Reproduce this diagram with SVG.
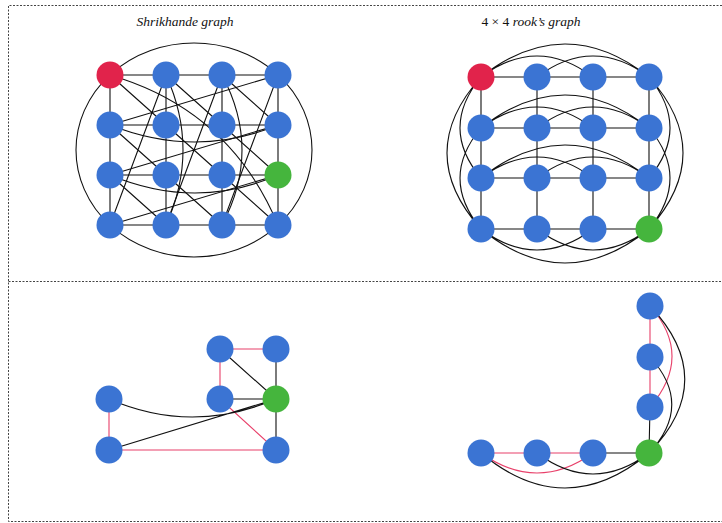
<svg xmlns="http://www.w3.org/2000/svg" width="722" height="523" viewBox="0 0 722 523">
<style>
.frame{stroke:#444;stroke-width:1;stroke-dasharray:2 1.5;fill:none}
.e{stroke:#111;stroke-width:1.1;fill:none}
.r{stroke:#e8406a;stroke-width:1.1;fill:none}
.b{fill:#3b74d3}
.red{fill:#e1234b}
.g{fill:#45b53d}
.t{font-family:"Liberation Serif",serif;font-size:13.5px;fill:#111}
</style>
<g id="frame">
<path class="frame" d="M722 5.5H8.5V521.5H722M8.5 281.5H722"/>
</g>
<text class="t" x="185" y="26" text-anchor="middle" font-style="italic">Shrikhande graph</text>
<text class="t" x="531" y="26" text-anchor="middle">4 × 4 <tspan font-style="italic">rook’s graph</tspan></text>
<g id="connectors">
<!-- Shrikhande -->
<ellipse class="e" cx="194" cy="150" rx="118" ry="107"/>
<path class="e" d="M110 75H278M110 125H278M110 175H278M110 225H278M110 75V225M166 75V225M222 75V225M278 75V225"/>
<path class="e" d="M110 75L166 125M166 75L222 125M222 75L278 125M278 75L110 125M110 125L166 175M166 125L222 175M222 125L278 175M278 125L110 175M110 175L166 225M166 175L222 225M222 175L278 225M278 175L110 225M110 225L166 75M166 225L222 75M222 225L278 75"/>
<path class="e" d="M110 75Q230 110 278 225"/>
<path class="e" d="M110 125Q196 159 278 125M110 175Q196 211 278 175M166 75Q200 150 166 225M222 75Q262 150 222 225"/>
<!-- Rook -->
<path class="e" d="M481 77H649M481 128H649M481 178H649M481 229H649M481 77V229M537 77V229M593 77V229M649 77V229"/>
<path class="e" d="M481 77Q537 35 593 77M537 77Q593 35 649 77M481 77Q565 11 649 77"/>
<path class="e" d="M481 128Q537 86 593 128M537 128Q593 86 649 128M481 128Q565 62 649 128"/>
<path class="e" d="M481 178Q537 136 593 178M537 178Q593 136 649 178M481 178Q565 112 649 178"/>
<path class="e" d="M481 229Q537 271 593 229M537 229Q593 271 649 229M481 229Q565 297 649 229"/>
<path class="e" d="M481 77Q439 128 481 178M481 128Q439 178 481 229M481 77Q413 153 481 229"/>
<path class="e" d="M649 77Q691 128 649 178M649 128Q691 178 649 229M649 77Q717 153 649 229"/>
<!-- bottom left -->
<path class="r" d="M220 349H276M220 349V399M220 399L276 450M109 399V450M109 450H276"/>
<path class="e" d="M276 349V450M220 349L276 399M220 399H276M109 450L276 399M109 399Q192 435 276 399"/>
<!-- bottom right -->
<path class="r" d="M650 306V407M650 306Q694 356 650 407M481 453H593M481 453Q537 493 593 453"/>
<path class="e" d="M650 407L649 453M593 453H649M650 306Q720 380 649 453M650 357Q694 405 649 453M537 453Q593 495 649 453M481 453Q565 523 649 453"/>
</g>
<g id="shrikhande-nodes">
<circle class="red" cx="110" cy="75" r="13.5"/><circle class="b" cx="166" cy="75" r="13.5"/><circle class="b" cx="222" cy="75" r="13.5"/><circle class="b" cx="278" cy="75" r="13.5"/>
<circle class="b" cx="110" cy="125" r="13.5"/><circle class="b" cx="166" cy="125" r="13.5"/><circle class="b" cx="222" cy="125" r="13.5"/><circle class="b" cx="278" cy="125" r="13.5"/>
<circle class="b" cx="110" cy="175" r="13.5"/><circle class="b" cx="166" cy="175" r="13.5"/><circle class="b" cx="222" cy="175" r="13.5"/><circle class="g" cx="278" cy="175" r="13.5"/>
<circle class="b" cx="110" cy="225" r="13.5"/><circle class="b" cx="166" cy="225" r="13.5"/><circle class="b" cx="222" cy="225" r="13.5"/><circle class="b" cx="278" cy="225" r="13.5"/>
</g>
<g id="rook-nodes">
<circle class="red" cx="481" cy="77" r="13.5"/><circle class="b" cx="537" cy="77" r="13.5"/><circle class="b" cx="593" cy="77" r="13.5"/><circle class="b" cx="649" cy="77" r="13.5"/>
<circle class="b" cx="481" cy="128" r="13.5"/><circle class="b" cx="537" cy="128" r="13.5"/><circle class="b" cx="593" cy="128" r="13.5"/><circle class="b" cx="649" cy="128" r="13.5"/>
<circle class="b" cx="481" cy="178" r="13.5"/><circle class="b" cx="537" cy="178" r="13.5"/><circle class="b" cx="593" cy="178" r="13.5"/><circle class="b" cx="649" cy="178" r="13.5"/>
<circle class="b" cx="481" cy="229" r="13.5"/><circle class="b" cx="537" cy="229" r="13.5"/><circle class="b" cx="593" cy="229" r="13.5"/><circle class="g" cx="649" cy="229" r="13.5"/>
</g>
<g id="local-left-nodes">
<circle class="b" cx="220" cy="349" r="13.5"/><circle class="b" cx="276" cy="349" r="13.5"/><circle class="b" cx="220" cy="399" r="13.5"/><circle class="g" cx="276" cy="399" r="13.5"/>
<circle class="b" cx="109" cy="399" r="13.5"/><circle class="b" cx="109" cy="450" r="13.5"/><circle class="b" cx="276" cy="450" r="13.5"/>
</g>
<g id="local-right-nodes">
<circle class="b" cx="650" cy="306" r="13.5"/><circle class="b" cx="650" cy="357" r="13.5"/><circle class="b" cx="650" cy="407" r="13.5"/><circle class="g" cx="649" cy="453" r="13.5"/>
<circle class="b" cx="481" cy="453" r="13.5"/><circle class="b" cx="537" cy="453" r="13.5"/><circle class="b" cx="593" cy="453" r="13.5"/>
</g>
</svg>
